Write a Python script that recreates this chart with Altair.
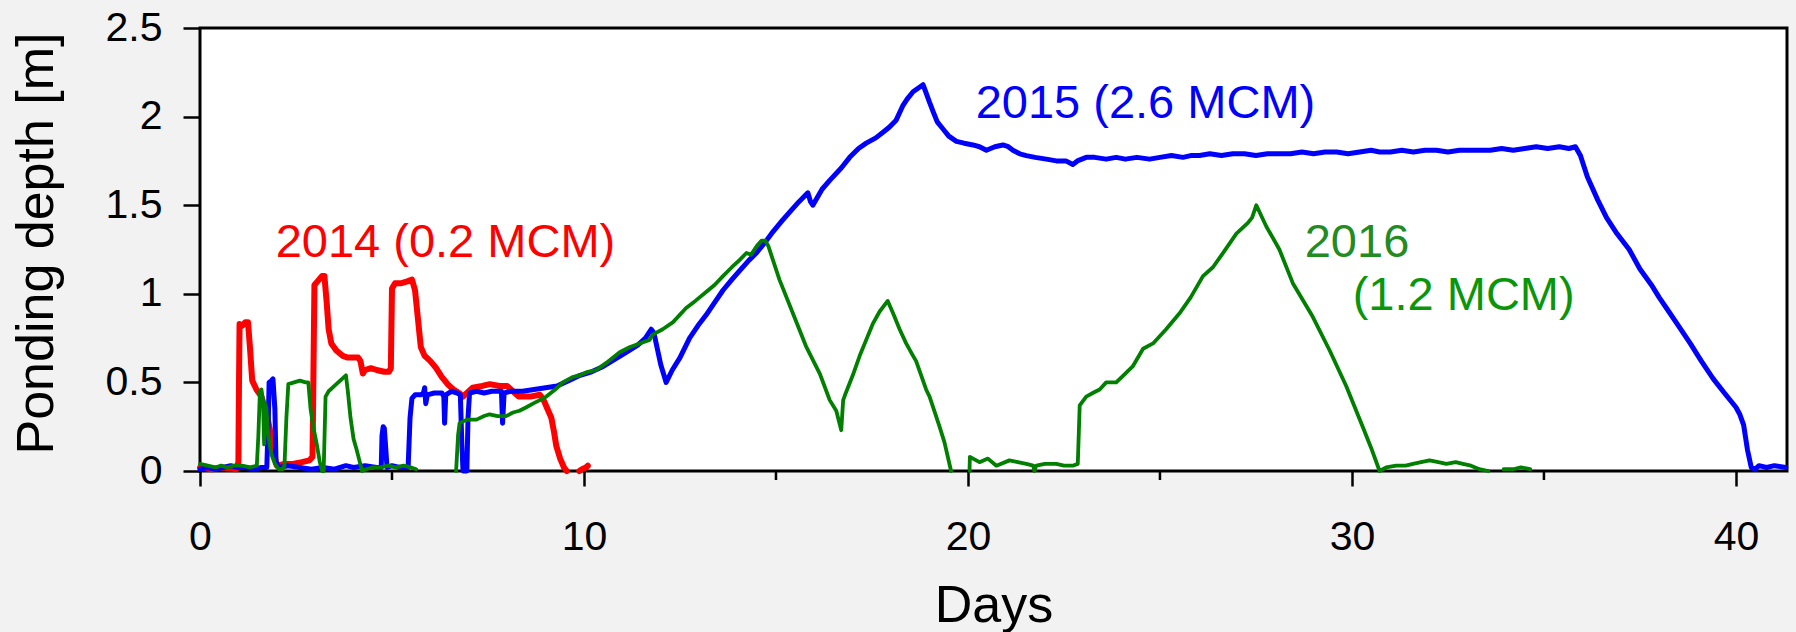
import altair as alt
import pandas as pd

# ---- 2014 record (red) ----
days_2014 = [0.00, 0.30, 0.60, 0.94, 1.00, 1.01, 1.03, 1.10, 1.18, 1.25, 1.30, 1.36, 1.47,
             1.60, 1.73, 1.85, 1.95, 2.00, 2.20, 2.42, 2.65, 2.85, 2.93, 2.98, 3.06, 3.18,
             3.24, 3.30, 3.35, 3.42, 3.55, 3.72, 3.85, 3.98, 4.12, 4.18, 4.24, 4.30, 4.45,
             4.60, 4.80, 4.92, 4.97, 5.00, 5.08, 5.25, 5.40, 5.52, 5.60, 5.68, 5.75, 5.85,
             6.00, 6.15, 6.30, 6.45, 6.60, 6.75, 6.85, 6.95, 7.10, 7.35, 7.55, 7.80, 8.00,
             8.15, 8.30, 8.60, 8.85, 8.95, 9.05, 9.15, 9.22, 9.28, 9.38, 9.48, 9.55,
             9.88, 9.95, 10.05, 10.10]
depth_2014 = [0.02, 0.01, 0.02, 0.01, 0.05, 0.36, 0.83, 0.82, 0.84, 0.84, 0.70, 0.51, 0.46,
              0.42, 0.33, 0.20, 0.08, 0.03, 0.04, 0.04, 0.05, 0.06, 0.08, 1.05, 1.07, 1.10,
              1.10, 0.95, 0.80, 0.72, 0.68, 0.65, 0.64, 0.64, 0.64, 0.62, 0.55, 0.57, 0.58,
              0.57, 0.56, 0.56, 0.58, 1.03, 1.06, 1.06, 1.07, 1.08, 1.02, 0.85, 0.70, 0.65,
              0.62, 0.58, 0.53, 0.49, 0.46, 0.44, 0.42, 0.44, 0.47, 0.48, 0.49, 0.48, 0.48,
              0.45, 0.42, 0.42, 0.43, 0.40, 0.35, 0.30, 0.22, 0.14, 0.07, 0.02, 0.00,
              0.00, 0.01, 0.02, 0.03]
gaps_2014 = [9.7]

# ---- 2015 record (blue) ----
days_2015 = [0.00, 0.20, 0.40, 0.60, 0.80, 1.00, 1.20, 1.40, 1.60, 1.74, 1.78, 1.80, 1.86,
             1.90, 1.95, 1.98, 2.05, 2.30, 2.60, 2.90, 3.20, 3.50, 3.80, 4.00, 4.30, 4.60,
             4.72, 4.74, 4.77, 4.80, 4.84, 4.87, 5.00, 5.20, 5.42, 5.47, 5.52, 5.60, 5.75,
             5.82, 5.85, 5.88, 5.92, 6.10, 6.30, 6.35, 6.37, 6.40, 6.55, 6.70, 6.78, 6.82,
             6.85, 6.95, 6.98, 7.02, 7.20, 7.40, 7.60, 7.85, 7.88, 7.92, 8.10, 8.40, 8.70,
             9.00, 9.30, 9.60, 9.90, 10.20, 10.50, 10.80, 11.10, 11.40, 11.60, 11.75, 11.82,
             12.00, 12.14, 12.30, 12.50, 12.75, 13.00, 13.18, 13.40, 13.62, 13.85, 14.05,
             14.30, 14.49, 14.75, 14.92, 15.15, 15.35, 15.60, 15.83, 15.90, 15.96, 16.20,
             16.40, 16.70, 16.92, 17.15, 17.35, 17.60, 17.78, 17.95, 18.13, 18.30, 18.42,
             18.57, 18.70, 18.83, 18.90, 19.00, 19.09, 19.20, 19.35, 19.50, 19.70, 19.90,
             20.13, 20.30, 20.48, 20.70, 20.91, 21.05, 21.17, 21.35, 21.52, 21.75, 22.04,
             22.30, 22.55, 22.73, 22.85, 23.08, 23.30, 23.60, 23.86, 24.10, 24.40, 24.73,
             25.00, 25.30, 25.60, 25.80, 26.03, 26.30, 26.60, 26.90, 27.20, 27.50, 27.80,
             28.11, 28.40, 28.70, 29.00, 29.30, 29.60, 29.90, 30.20, 30.50, 30.72, 31.00,
             31.30, 31.60, 31.90, 32.20, 32.50, 32.80, 33.10, 33.32, 33.60, 33.90, 34.20,
             34.50, 34.80, 35.10, 35.40, 35.65, 35.82, 35.95, 36.13, 36.40, 36.63, 36.90,
             37.22, 37.50, 37.80, 38.00, 38.22, 38.50, 38.81, 39.10, 39.41, 39.70, 40.00,
             40.10, 40.20, 40.30, 40.40, 40.50, 40.60, 40.80, 41.00, 41.30]
depth_2015 = [0.01, 0.02, 0.01, 0.02, 0.03, 0.02, 0.02, 0.01, 0.02, 0.02, 0.30, 0.50, 0.51,
              0.52, 0.35, 0.05, 0.02, 0.03, 0.02, 0.01, 0.02, 0.01, 0.03, 0.02, 0.03, 0.02,
              0.02, 0.20, 0.25, 0.24, 0.12, 0.02, 0.03, 0.02, 0.02, 0.30, 0.41, 0.43, 0.43,
              0.44, 0.47, 0.38, 0.43, 0.44, 0.44, 0.42, 0.27, 0.43, 0.45, 0.44, 0.43, 0.15,
              0.00, 0.00, 0.30, 0.44, 0.45, 0.44, 0.45, 0.45, 0.27, 0.44, 0.45, 0.45, 0.46,
              0.47, 0.48, 0.51, 0.54, 0.56, 0.59, 0.63, 0.67, 0.71, 0.75, 0.80, 0.78,
              0.60, 0.50, 0.57, 0.64, 0.75, 0.83, 0.88, 0.95, 1.02, 1.08, 1.13,
              1.19, 1.23, 1.30, 1.35, 1.41, 1.46, 1.52, 1.57, 1.52, 1.50, 1.59,
              1.64, 1.71, 1.77, 1.82, 1.85, 1.88, 1.91, 1.94, 1.98, 2.06, 2.10,
              2.14, 2.16, 2.18, 2.14, 2.08, 2.03, 1.97, 1.93, 1.89, 1.86, 1.85,
              1.84, 1.83, 1.81, 1.83, 1.84, 1.83, 1.81, 1.79, 1.78, 1.77, 1.76,
              1.75, 1.75, 1.73, 1.75, 1.77, 1.77, 1.76, 1.77, 1.76, 1.77, 1.76,
              1.77, 1.78, 1.77, 1.78, 1.78, 1.79, 1.78, 1.79, 1.79, 1.78, 1.79,
              1.79, 1.79, 1.80, 1.79, 1.80, 1.80, 1.79, 1.80, 1.81, 1.80, 1.80,
              1.81, 1.80, 1.81, 1.81, 1.80, 1.81, 1.81, 1.81, 1.81, 1.82, 1.81,
              1.82, 1.83, 1.82, 1.83, 1.82, 1.83, 1.78, 1.66, 1.53, 1.43, 1.34,
              1.25, 1.14, 1.05, 0.98, 0.91, 0.82, 0.72, 0.62, 0.52, 0.44, 0.36,
              0.32, 0.26, 0.12, 0.02, 0.01, 0.03, 0.02, 0.03, 0.02]
gaps_2015 = []

# ---- 2016 record (green) ----
days_2016 = [0.00, 0.20, 0.40, 0.55, 0.70, 0.90, 1.10, 1.30, 1.48, 1.52, 1.56, 1.60, 1.64,
             1.67, 1.70, 1.73, 1.78, 1.85, 1.95, 2.05, 2.15, 2.20, 2.25, 2.30, 2.45, 2.60,
             2.75, 2.82, 2.88, 2.95, 3.05, 3.12, 3.18, 3.22, 3.27, 3.35, 3.50, 3.65, 3.80,
             3.85, 3.92, 4.00, 4.08, 4.15, 4.22,
             4.33, 4.50, 4.70, 4.90, 5.10, 5.30, 5.50, 5.63,
             6.67, 6.72, 6.76, 6.95, 7.20, 7.40, 7.54, 7.75, 7.97, 8.15, 8.32, 8.50, 8.67,
             8.85, 9.02, 9.25, 9.45, 9.70, 9.89, 10.10, 10.32, 10.58, 10.93, 11.20, 11.45,
             11.71, 11.79, 12.05, 12.32, 12.66, 12.90, 13.18, 13.40, 13.62, 13.85, 14.05,
             14.23, 14.35, 14.50, 14.62, 14.72, 14.80, 15.09, 15.44, 15.79, 16.14, 16.40,
             16.57, 16.70, 16.75, 16.80, 17.00, 17.18, 17.35, 17.52, 17.70, 17.91, 18.05,
             18.22, 18.39, 18.57, 18.65, 18.91, 19.00, 19.26, 19.39, 19.56,
             20.04, 20.05, 20.30, 20.52, 20.74, 21.08, 21.30, 21.52, 21.70, 21.73, 21.78,
             22.00, 22.30, 22.50, 22.73, 22.86, 22.91, 23.08, 23.25, 23.43, 23.60, 23.86,
             24.05, 24.29, 24.56, 24.82, 25.16, 25.51, 25.80, 26.12, 26.38, 26.64, 26.99,
             27.29, 27.40, 27.51, 27.77, 28.11, 28.46, 28.98, 29.42, 29.85, 30.28, 30.50,
             30.72, 30.89, 31.15, 31.40, 31.59, 31.80, 32.02, 32.25, 32.46, 32.70, 32.89,
             33.10, 33.32, 33.55,
             33.95, 34.20, 34.40, 34.64]
depth_2016 = [0.04, 0.03, 0.02, 0.03, 0.02, 0.03, 0.03, 0.02, 0.03, 0.20, 0.45, 0.46, 0.40,
              0.15, 0.38, 0.35, 0.20, 0.10, 0.04, 0.01, 0.01, 0.03, 0.30, 0.49, 0.50, 0.51,
              0.50, 0.50, 0.35, 0.25, 0.14, 0.05, 0.00, 0.00, 0.42, 0.45, 0.48, 0.51, 0.54,
              0.45, 0.30, 0.18, 0.12, 0.06, 0.00,
              0.01, 0.02, 0.02, 0.03, 0.02, 0.03, 0.02, 0.01,
              0.00, 0.20, 0.27, 0.29, 0.29, 0.31, 0.32, 0.31, 0.31, 0.33, 0.34, 0.36, 0.38,
              0.40, 0.42, 0.46, 0.50, 0.53, 0.54, 0.56, 0.57, 0.61, 0.67, 0.70, 0.72,
              0.74, 0.77, 0.80, 0.84, 0.92, 0.96, 1.01, 1.05, 1.10, 1.15, 1.19,
              1.23, 1.22, 1.27, 1.30, 1.30, 1.27, 1.08, 0.89, 0.70, 0.55, 0.40,
              0.34, 0.23, 0.40, 0.43, 0.54, 0.65, 0.74, 0.83, 0.90, 0.96, 0.89,
              0.80, 0.72, 0.65, 0.62, 0.46, 0.42, 0.25, 0.16, 0.00,
              0.00, 0.08, 0.05, 0.07, 0.03, 0.06, 0.05, 0.04, 0.03, 0.00, 0.03,
              0.04, 0.04, 0.03, 0.03, 0.04, 0.37, 0.42, 0.44, 0.46, 0.50, 0.50,
              0.54, 0.59, 0.69, 0.72, 0.80, 0.89, 0.98, 1.10, 1.15, 1.23, 1.34,
              1.40, 1.43, 1.50, 1.38, 1.25, 1.06, 0.87, 0.68, 0.48, 0.25, 0.13,
              0.00, 0.02, 0.03, 0.03, 0.04, 0.05, 0.06, 0.05, 0.04, 0.05, 0.04,
              0.03, 0.01, 0.00,
              0.01, 0.01, 0.02, 0.01]
gaps_2016 = [6.0, 19.8, 33.75]

# ---- annotations ----
label_text = ["2014 (0.2 MCM)", "2015 (2.6 MCM)", "2016", "(1.2 MCM)"]
label_day = [1.97, 20.20, 28.77, 30.02]
label_depth = [1.21, 1.99, 1.21, 0.91]
label_color = ["#ff0000", "#0000ff", "#228b22", "#0a960a"]

x_major = [0, 10, 20, 30, 40]
x_minor = [5, 15, 25, 35]
y_ticks = [0, 0.5, 1, 1.5, 2, 2.5]

FONT = "Liberation Sans"
PLOT_W, PLOT_H = 1587, 443


def frame(days, depth, gaps):
    seg = [sum(1 for g in gaps if d > g) for d in days]
    return pd.DataFrame({"day": days, "depth": depth, "seg": seg})


x_scale = alt.Scale(domain=[0, 41.33], nice=False, zero=False)
y_scale = alt.Scale(domain=[0, 2.5], nice=False, zero=False)

x_axis = alt.Axis(
    values=x_major, tickSize=15, tickWidth=2.5, tickColor="black",
    labelPadding=31, labelFontSize=41, labelFont=FONT, labelColor="black",
    labelFlush=False, domain=False, grid=False,
    title="Days", titleFont=FONT, titleFontSize=52, titleFontWeight="normal",
    titleColor="black", titleBaseline="alphabetic", titleAlign="center",
    titleX=PLOT_W / 2, titleY=150,
)
y_axis = alt.Axis(
    values=y_ticks, format="~g", tickSize=17, tickWidth=2.5, tickColor="black",
    labelPadding=21, labelFontSize=41, labelFont=FONT, labelColor="black",
    domain=False, grid=False,
    title="Ponding depth [m]", titleFont=FONT, titleFontSize=52,
    titleFontWeight="normal", titleColor="black", titleAngle=270,
    titleBaseline="alphabetic", titleAlign="center", titleX=-148, titleY=215,
)

X = alt.X("day:Q", scale=x_scale, axis=x_axis)
Y = alt.Y("depth:Q", scale=y_scale, axis=y_axis)


def series(df, color, width):
    return alt.Chart(df).mark_line(
        color=color, strokeWidth=width, strokeJoin="round", strokeCap="round"
    ).encode(x=X, y=Y, detail="seg:N", order="day:Q")


red = series(frame(days_2014, depth_2014, gaps_2014), "#ff0000", 6)
blue = series(frame(days_2015, depth_2015, gaps_2015), "#0000ff", 5)
green = series(frame(days_2016, depth_2016, gaps_2016), "#007f00", 3.8)

minor = alt.Chart(pd.DataFrame({"day": x_minor})).mark_rule(
    color="black", strokeWidth=2.5
).encode(x=X, y=alt.value(PLOT_H), y2=alt.value(PLOT_H + 9))

labels = alt.Chart(pd.DataFrame({
    "day": label_day, "depth": label_depth, "text": label_text, "color": label_color
})).mark_text(
    font=FONT, fontSize=47, align="left", baseline="alphabetic"
).encode(x=X, y=Y, text="text:N", color=alt.Color("color:N", scale=None))

chart = alt.layer(red, blue, green, minor, labels).properties(
    width=PLOT_W, height=PLOT_H,
    padding={"left": 200, "top": 28, "right": 9, "bottom": 161},
    autosize=alt.AutoSizeParams(type="none"),
    background="#f2f2f2",
).configure_view(
    fill="white", stroke="black", strokeWidth=3
)

chart.save("out.html", embed_options={"renderer": "svg", "actions": False})
